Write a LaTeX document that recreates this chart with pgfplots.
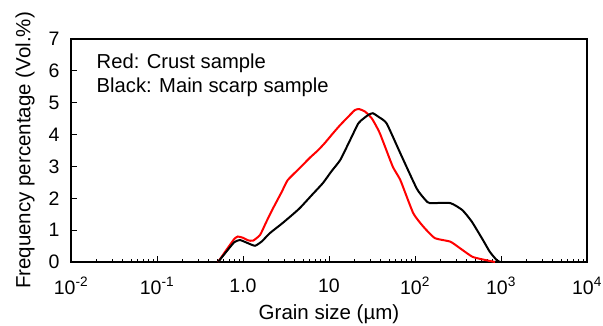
\documentclass[border=0pt]{standalone}
\usepackage{pgfplots}
\pgfplotsset{compat=1.18}
\usepackage{fontspec}
\setmainfont{Liberation Sans}
\begin{document}
\begin{tikzpicture}
\path[use as bounding box] (-71pt,-63pt) rectangle (532pt,262pt);
\begin{axis}[
  at={(0pt,0pt)}, anchor=south west,
  scale only axis, width=516pt, height=223pt,
  xmode=log, xmin=1e-2, xmax=1e4, ymin=0, ymax=7,
  xtick={1e-2,1e-1,1,10,100,1000,10000},
  xticklabels={10\textsuperscript{-2},10\textsuperscript{-1},1.0,10,10\textsuperscript{2},10\textsuperscript{3},10\textsuperscript{4}},
  ytick={0,1,2,3,4,5,6,7},
  xtick pos=bottom, ytick pos=left, tick align=inside,
  major tick length=6pt, minor tick length=3pt,
  tick style={black, line width=0.9pt},
  axis line style={line width=1.6pt},
  /pgf/number format/assume math mode=true,
  tick label style={font=\fontsize{19.5}{21}\selectfont},
  label style={font=\fontsize{20.5}{23}\selectfont},
  xlabel={Grain size (µm)},
  ylabel={Frequency percentage (Vol.\%)},
  xlabel style={at={(0.5,0)}, anchor=center, yshift=-52pt},
  ylabel style={at={(0,0.5)}, anchor=center, yshift=46pt},
  xticklabel style={anchor=center, yshift=-24pt},
  yticklabel style={anchor=east, xshift=-8pt},
  clip=false,
]
\addplot[red, line width=2pt, smooth, tension=0.3] coordinates {
(0.513,0) (0.63,0.35) (0.79,0.72) (0.87,0.80) (1.0,0.76) (1.15,0.68) (1.31,0.67)
(1.58,0.85) (1.86,1.25) (2.24,1.69) (2.82,2.2) (3.31,2.57) (4.57,2.95) (6.03,3.28)
(7.41,3.5) (8.91,3.73) (11.2,4.05) (13.5,4.3) (16.6,4.55) (20.0,4.77) (22.4,4.8)
(26.3,4.72) (31.6,4.5) (38.9,4.05) (55.0,3.0) (67.6,2.57) (95.5,1.53) (126,1.1)
(170,0.75) (257,0.64) (331,0.44) (468,0.16) (692,0.05) (851,0)
};
\addplot[black, line width=2pt, smooth, tension=0.3] coordinates {
(0.513,0) (0.63,0.3) (0.79,0.62) (0.92,0.69) (1.12,0.6) (1.38,0.51) (1.66,0.65)
(2.04,0.9) (2.82,1.2) (3.63,1.45) (4.57,1.69) (6.31,2.1) (8.51,2.48) (10.7,2.85)
(13.5,3.2) (17.4,3.8) (21.9,4.35) (25.1,4.5) (28.8,4.62) (32.4,4.67) (38.0,4.55) (46.8,4.35)
(67.6,3.41) (105,2.3) (132,1.95) (148,1.85) (257,1.85) (355,1.63) (457,1.27)
(617,0.69) (741,0.32) (891,0.06) (977,0)
};
\node[anchor=west, font=\fontsize{20.2}{23}\selectfont] at (rel axis cs:0.043,0.892) {Red: Crust sample};
\node[anchor=west, font=\fontsize{20.2}{23}\selectfont] at (rel axis cs:0.043,0.785) {Black: Main scarp sample};
\end{axis}
\end{tikzpicture}
\end{document}
